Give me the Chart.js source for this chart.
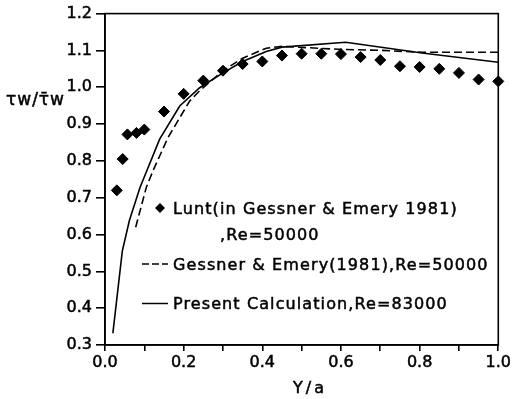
<!DOCTYPE html>
<html>
<head>
<meta charset="utf-8">
<script src="https://cdn.jsdelivr.net/npm/chart.js@4"></script>
<style>
  body { margin: 0; background: #fff; }
  #wrap { width: 513px; height: 399px; }
</style>
</head>
<body>
<div id="wrap"><canvas id="chart" width="513" height="399"></canvas></div>
<script>
// Lunt (in Gessner & Emery 1981), Re=50000 - diamonds
const luntX = [0.03, 0.045, 0.057, 0.08, 0.1, 0.15, 0.2, 0.25, 0.3, 0.35, 0.4, 0.45, 0.5, 0.55, 0.6, 0.65, 0.7, 0.75, 0.8, 0.85, 0.9, 0.95, 1.0];
const luntY = [0.72, 0.805, 0.872, 0.876, 0.885, 0.934, 0.982, 1.018, 1.045, 1.063, 1.07, 1.086, 1.091, 1.091, 1.09, 1.082, 1.074, 1.057, 1.055, 1.05, 1.039, 1.021, 1.016];

// Gessner & Emery (1981), Re=50000 - dashed
const gessX = [0.078, 0.105, 0.122, 0.16, 0.215, 0.24, 0.3, 0.35, 0.41, 0.45, 0.595, 0.705, 0.806, 1.0];
const gessY = [0.62, 0.728, 0.773, 0.863, 0.962, 0.99, 1.045, 1.079, 1.106, 1.111, 1.103, 1.1, 1.095, 1.095];

// Present calculation, Re=83000 - solid
const calcX = [0.02, 0.044, 0.062, 0.089, 0.139, 0.19, 0.24, 0.3, 0.35, 0.41, 0.45, 0.612, 0.806, 1.0];
const calcY = [0.332, 0.555, 0.638, 0.728, 0.859, 0.949, 0.998, 1.039, 1.07, 1.097, 1.109, 1.122, 1.093, 1.068];

const xTicks = ["0.0", "0.2", "0.4", "0.6", "0.8", "1.0"];
const legendLines = ["Lunt(in Gessner & Emery 1981)", ",Re=50000", "Gessner & Emery(1981),Re=50000", "Present Calculation,Re=83000"];
const yTitle = "τw/τ̄w";
const xTitle = "Y/a";

const FONT = "DejaVu Sans";

function pts(xs, ys) {
    return xs.map((x, i) => ({ x: x, y: ys[i] }));
}

function boldText(ctx, txt, x, y) {
    ctx.fillText(txt, x, y);
    ctx.strokeText(txt, x, y);
}

const extras = {
    id: "extras",
    afterDraw(chart) {
        const ctx = chart.ctx;
        const a = chart.chartArea;
        ctx.save();
        // frame
        ctx.strokeStyle = "#000";
        ctx.lineWidth = 1.6;
        ctx.strokeRect(a.left, a.top, a.right - a.left, a.bottom - a.top);

        ctx.fillStyle = "#000";
        ctx.textBaseline = "alphabetic";
        ctx.font = "16px '" + FONT + "'";
        ctx.letterSpacing = "1.1px";

        // legend
        ctx.beginPath();
        ctx.moveTo(160, 203);
        ctx.lineTo(165, 208);
        ctx.lineTo(160, 213);
        ctx.lineTo(155, 208);
        ctx.closePath();
        ctx.fill();

        ctx.lineWidth = 1.5;
        ctx.setLineDash([7, 3]);
        ctx.beginPath();
        ctx.moveTo(142, 264);
        ctx.lineTo(168, 264);
        ctx.stroke();

        ctx.setLineDash([]);
        ctx.beginPath();
        ctx.moveTo(142, 303.5);
        ctx.lineTo(168, 303.5);
        ctx.stroke();

        ctx.lineWidth = 0.5;
        boldText(ctx, legendLines[0], 173, 214);
        boldText(ctx, legendLines[1], 220, 240);
        boldText(ctx, legendLines[2], 173, 270);
        boldText(ctx, legendLines[3], 173, 309);

        // axis titles
        ctx.font = "17px '" + FONT + "'";
        ctx.letterSpacing = "1px";
        boldText(ctx, yTitle, 6, 105);
        ctx.font = "16px '" + FONT + "'";
        ctx.letterSpacing = "3px";
        ctx.textAlign = "center";
        boldText(ctx, xTitle, 310, 393);
        ctx.restore();
    }
};

const tickFont = { family: FONT, size: 16 };

new Chart(document.getElementById("chart"), {
    type: "scatter",
    data: {
        datasets: [
            {
                label: legendLines[0],
                data: pts(luntX, luntY),
                pointStyle: "rectRot",
                pointRadius: 5.5,
                backgroundColor: "#000",
                borderColor: "#000",
                showLine: false,
                clip: false
            },
            {
                label: legendLines[2],
                data: pts(gessX, gessY),
                showLine: true,
                borderColor: "#000",
                borderWidth: 1.6,
                borderDash: [8, 4],
                pointRadius: 0,
                tension: 0
            },
            {
                label: legendLines[3],
                data: pts(calcX, calcY),
                showLine: true,
                borderColor: "#000",
                borderWidth: 1.6,
                pointRadius: 0,
                tension: 0
            }
        ]
    },
    options: {
        responsive: false,
        animation: false,
        layout: { padding: { top: 12, right: 13, left: 0, bottom: 0 } },
        plugins: {
            legend: { display: false },
            tooltip: { enabled: false }
        },
        scales: {
            x: {
                type: "linear",
                min: 0,
                max: 1,
                afterFit: s => { s.height = 54; },
                ticks: {
                    stepSize: 0.1,
                    color: "#000",
                    font: tickFont,
                    textStrokeColor: "#000",
                    textStrokeWidth: 0.5,
                    padding: 2,
                    maxRotation: 0,
                    autoSkip: false,
                    callback: v => {
                        const k = Math.round(v * 10);
                        return k % 2 === 0 ? xTicks[k / 2] : "";
                    }
                },
                grid: {
                    drawOnChartArea: false,
                    drawTicks: true,
                    tickLength: 6,
                    color: "#000",
                    lineWidth: 1.6
                },
                border: { display: true, color: "#000", width: 1.6 }
            },
            y: {
                min: 0.3,
                max: 1.2,
                afterFit: s => { s.width = 105; },
                ticks: {
                    stepSize: 0.1,
                    color: "#000",
                    font: tickFont,
                    textStrokeColor: "#000",
                    textStrokeWidth: 0.5,
                    padding: 4,
                    callback: v => v.toFixed(1)
                },
                grid: {
                    drawOnChartArea: false,
                    drawTicks: true,
                    tickLength: 9,
                    color: "#000",
                    lineWidth: 1.6
                },
                border: { display: true, color: "#000", width: 1.6 }
            }
        }
    },
    plugins: [extras]
});
</script>
</body>
</html>
